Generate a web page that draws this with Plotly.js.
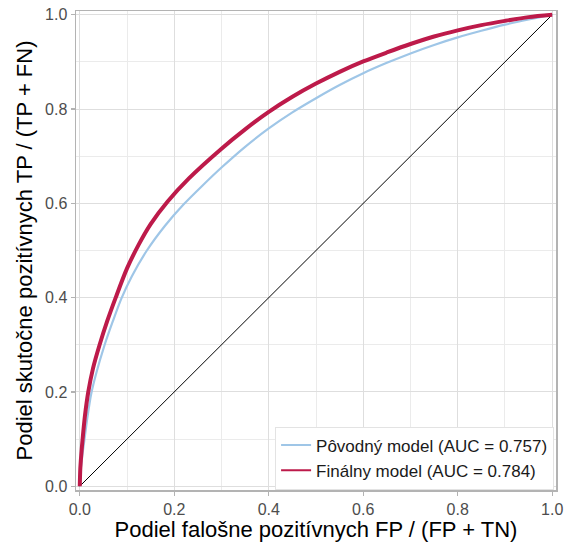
<!DOCTYPE html>
<html>
<head>
<meta charset="utf-8">
<script src="https://cdn.plot.ly/plotly-3.0.1.min.js"></script>
<style>
html,body{margin:0;padding:0;background:#fff;}
#chart{width:570px;height:542px;}
</style>
</head>
<body>
<div id="chart"></div>
<script>
// ROC curve of the original model (AUC = 0.757)
const origFPR = [0, 0.001, 0.003, 0.006, 0.01, 0.016, 0.024, 0.035, 0.052, 0.07, 0.088, 0.11, 0.142, 0.18, 0.22, 0.26, 0.3, 0.35, 0.4, 0.45, 0.5, 0.55, 0.6, 0.65, 0.7, 0.75, 0.8, 0.85, 0.9, 0.95, 1.0];
const origTPR = [0, 0.025, 0.045, 0.07, 0.1, 0.145, 0.195, 0.24, 0.298, 0.35, 0.398, 0.445, 0.5, 0.552, 0.598, 0.638, 0.676, 0.72, 0.759, 0.793, 0.823, 0.851, 0.876, 0.898, 0.918, 0.936, 0.952, 0.966, 0.979, 0.99, 1.0];
// ROC curve of the final model (AUC = 0.784)
const finalFPR = [0, 0.001, 0.003, 0.006, 0.011, 0.018, 0.028, 0.042, 0.058, 0.076, 0.1, 0.125, 0.15, 0.186, 0.231, 0.3, 0.35, 0.4, 0.45, 0.5, 0.55, 0.6, 0.65, 0.7, 0.75, 0.8, 0.85, 0.9, 0.95, 1.0];
const finalTPR = [0, 0.035, 0.065, 0.1, 0.15, 0.2, 0.25, 0.3, 0.35, 0.4, 0.462, 0.513, 0.556, 0.604, 0.653, 0.716, 0.757, 0.794, 0.826, 0.854, 0.879, 0.901, 0.92, 0.938, 0.954, 0.967, 0.978, 0.987, 0.995, 1.0];
// reference diagonal
const diagX = [0, 1];
const diagY = [0, 1];
const seriesNames = ["Pôvodný model (AUC = 0.757)", "Finálny model (AUC = 0.784)"];
const seriesColors = ["#9fc6e7", "#bd1a4a"];
const tickVals = [0, 0.2, 0.4, 0.6, 0.8, 1.0];
const tickText = ["0.0", "0.2", "0.4", "0.6", "0.8", "1.0"];
const xTitle = "Podiel falošne pozitívnych FP / (FP + TN)";
const yTitle = "Podiel skutočne pozitívnych TP / (TP + FN)";

const FONT = "Liberation Sans, Arial, Helvetica, sans-serif";

const traces = [
  {x: diagX, y: diagY, mode: "lines", line: {color: "#000000", width: 1}, showlegend: false, hoverinfo: "skip"},
  {x: origFPR, y: origTPR, mode: "lines", name: seriesNames[0], showlegend: false, legendgroup: "a",
   line: {color: seriesColors[0], width: 2.2, shape: "spline", smoothing: 0.8}},
  {x: finalFPR, y: finalTPR, mode: "lines", name: seriesNames[1], showlegend: false, legendgroup: "b",
   line: {color: seriesColors[1], width: 4, shape: "spline", smoothing: 0.8}},
  // legend keys (thin lines, as in the reference legend)
  {x: [null], y: [null], mode: "lines", name: seriesNames[0], legendgroup: "a", line: {color: seriesColors[0], width: 2}},
  {x: [null], y: [null], mode: "lines", name: seriesNames[1], legendgroup: "b", line: {color: seriesColors[1], width: 2}}
];

const axisCommon = {
  range: [-0.008, 1.008],
  tickvals: tickVals,
  ticktext: tickText,
  ticks: "outside",
  ticklen: 4,
  tickwidth: 1.2,
  tickcolor: "#b3b3b3",
  tickfont: {family: FONT, size: 16, color: "#4d4d4d"},
  showgrid: true,
  gridcolor: "#dedede",
  gridwidth: 1,
  minor: {dtick: 0.1, tick0: 0, showgrid: true, gridcolor: "#ebebeb", gridwidth: 1, ticks: ""},
  zeroline: false,
  showline: true,
  mirror: true,
  linecolor: "#b3b3b3",
  linewidth: 1.5,
  fixedrange: true
};

const layout = {
  width: 570,
  height: 542,
  margin: {l: 76, r: 14, t: 11, b: 52},
  paper_bgcolor: "#ffffff",
  plot_bgcolor: "#ffffff",
  font: {family: FONT, color: "#000000"},
  xaxis: Object.assign({}, axisCommon, {title: {text: xTitle, font: {family: FONT, size: 22, color: "#000000"}, standoff: 0}}),
  yaxis: Object.assign({}, axisCommon, {title: {text: yTitle, font: {family: FONT, size: 22, color: "#000000"}, standoff: 6}}),
  legend: {
    x: 0.996, y: 0.001, xanchor: "right", yanchor: "bottom",
    bgcolor: "#ffffff", bordercolor: "#e3e3e3", borderwidth: 1,
    font: {family: FONT, size: 17, color: "#1a1a1a"},
    entrywidth: 282, entrywidthmode: "pixels",
    tracegroupgap: 0
  },
  showlegend: true
};

Plotly.newPlot("chart", traces, layout, {staticPlot: true, displayModeBar: false});
</script>
</body>
</html>
